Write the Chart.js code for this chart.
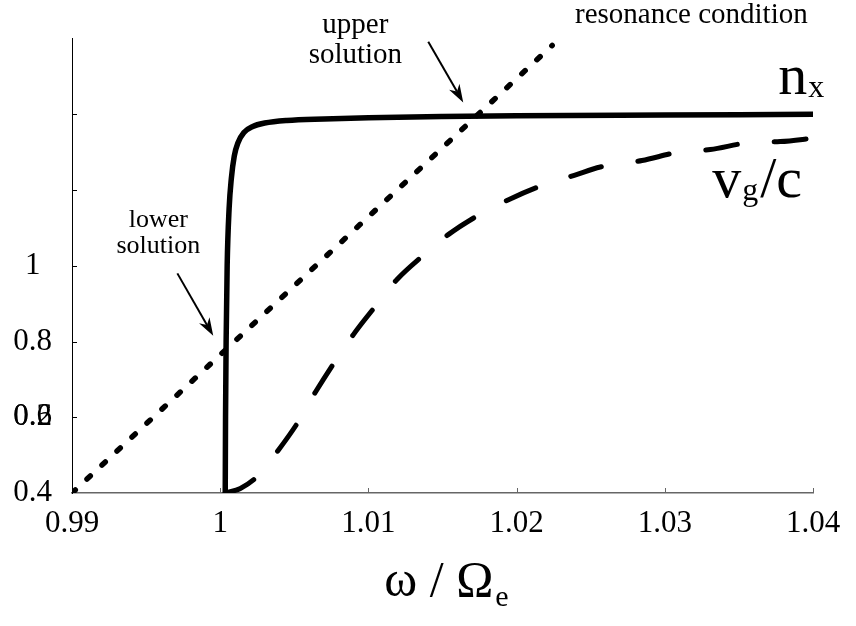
<!DOCTYPE html>
<html>
<head>
<meta charset="utf-8">
<script src="https://cdn.jsdelivr.net/npm/chart.js@4.4.1/dist/chart.umd.min.js"></script>
<style>
html,body{margin:0;padding:0;background:#fff;}
#wrap{width:856px;height:626px;position:relative;}
</style>
</head>
<body>
<div id="wrap"><canvas id="c"></canvas></div>
<script>
// ---- data ----
const resX = [0.99, 1.0224];
const resY = [0.40, 1.582];

const nxX = [1.00034, 1.00036, 1.00040, 1.00047, 1.00060, 1.00075, 1.00095, 1.00120, 1.00160, 1.00220, 1.00300, 1.00450, 1.00700, 1.01000, 1.01500, 1.02000, 1.03000, 1.04000];
const nxY = [0.400, 0.600, 0.800, 1.000, 1.150, 1.230, 1.290, 1.325, 1.352, 1.368, 1.377, 1.384, 1.388, 1.391, 1.394, 1.396, 1.398, 1.400];

const vgX = [1.00034, 1.00136, 1.00248, 1.00392, 1.00525, 1.00642, 1.00900, 1.01047, 1.01193, 1.01368, 1.01541, 1.01744, 1.01953, 1.02178, 1.02389, 1.02565, 1.02846, 1.03093, 1.03307, 1.03566, 1.03779, 1.04004];
const vgY = [0.400, 0.412, 0.443, 0.513, 0.587, 0.666, 0.819, 0.893, 0.964, 1.027, 1.083, 1.134, 1.176, 1.213, 1.239, 1.261, 1.278, 1.300, 1.307, 1.325, 1.328, 1.337];

const xTickLabels = ['0.99', '1', '1.01', '1.02', '1.03', '1.04'];
const yTickValues = [0.4, 0.6, 0.8, 1.0, 1.2, 1.4, 1.6];
const yTickLabels = ['0.4', '0.6', '0.8', '1', '', '', ''];
const yOverlayLabel = {value: 0.6, text: '0.2'};

const xTitle = 'ω / Ω';
const xTitleSub = 'e';

// annotations (data coordinates)
const notes = [
  {lines: ['lower', 'solution'], x: 0.99583, y: [1.1034, 1.0325], align: 'center', size: 26},
  {lines: ['upper', 'solution'], x: 1.00912, y: [1.615, 1.5365], align: 'center', size: 29},
  {lines: ['resonance condition'], x: 1.02394, y: [1.6415], align: 'left', size: 29}
];
const arrows = [
  {from: [0.99711, 0.980], to: [0.99953, 0.815]},
  {from: [1.01404, 1.592], to: [1.01640, 1.4315]}
];
const seriesLabels = [
  {main: 'n', sub: 'x', rest: '', x: 1.03765, y: 1.4525},
  {main: 'v', sub: 'g', rest: '/c', x: 1.0332, y: 1.182}
];

const SERIF = '"Liberation Serif", "DejaVu Serif", serif';

function pts(xs, ys){ return xs.map((x,i)=>({x:x, y:ys[i]})); }

const decor = {
  id: 'decor',
  afterDraw(chart){
    const ctx = chart.ctx, xs = chart.scales.x, ys = chart.scales.y, ca = chart.chartArea;
    ctx.save();
    // inward ticks on y axis
    ctx.strokeStyle = '#000'; ctx.lineWidth = 1;
    yTickValues.forEach(v=>{
      if (v <= 0.4 || v >= 1.6) return;
      const py = Math.round(ys.getPixelForValue(v)) + 0.5;
      ctx.beginPath(); ctx.moveTo(ca.left, py); ctx.lineTo(ca.left + 5, py); ctx.stroke();
    });
    // inward ticks on x axis
    ctx.strokeStyle = '#666'; ctx.lineWidth = 1;
    xs.ticks.forEach((t,i)=>{
      if (i === 0) return;
      const px = Math.round(xs.getPixelForValue(t.value)) + 0.5;
      ctx.beginPath(); ctx.moveTo(px, ca.bottom); ctx.lineTo(px, ca.bottom - 5); ctx.stroke();
    });
    // overlapping y label
    ctx.fillStyle = '#000';
    ctx.font = '31px ' + SERIF;
    ctx.textAlign = 'center'; ctx.textBaseline = 'middle';
    const wid = ctx.measureText('0.6').width;
    ctx.fillText(yOverlayLabel.text, ys.right - 20 - wid/2, ys.getPixelForValue(yOverlayLabel.value));
    // annotations
    ctx.textBaseline = 'alphabetic';
    notes.forEach(n=>{
      ctx.font = n.size + 'px ' + SERIF;
      ctx.textAlign = n.align;
      n.lines.forEach((l,i)=>{
        ctx.fillText(l, xs.getPixelForValue(n.x), ys.getPixelForValue(n.y[i]));
      });
    });
    // arrows
    arrows.forEach(a=>{
      const x1 = xs.getPixelForValue(a.from[0]), y1 = ys.getPixelForValue(a.from[1]);
      const x2 = xs.getPixelForValue(a.to[0]), y2 = ys.getPixelForValue(a.to[1]);
      const ang = Math.atan2(y2 - y1, x2 - x1);
      const L = 18, W = 6;
      ctx.strokeStyle = '#000'; ctx.lineWidth = 2;
      ctx.beginPath(); ctx.moveTo(x1, y1);
      ctx.lineTo(x2 - Math.cos(ang)*L*0.7, y2 - Math.sin(ang)*L*0.7); ctx.stroke();
      ctx.beginPath();
      ctx.moveTo(x2, y2);
      ctx.lineTo(x2 - Math.cos(ang)*L - Math.sin(ang)*W, y2 - Math.sin(ang)*L + Math.cos(ang)*W);
      ctx.lineTo(x2 - Math.cos(ang)*L*0.7, y2 - Math.sin(ang)*L*0.7);
      ctx.lineTo(x2 - Math.cos(ang)*L + Math.sin(ang)*W, y2 - Math.sin(ang)*L - Math.cos(ang)*W);
      ctx.closePath(); ctx.fillStyle = '#000'; ctx.fill();
    });
    // series labels
    seriesLabels.forEach(s=>{
      let px = xs.getPixelForValue(s.x), py = ys.getPixelForValue(s.y);
      ctx.textAlign = 'left';
      ctx.font = '58px ' + SERIF;
      ctx.fillText(s.main, px, py);
      px += ctx.measureText(s.main).width + 1;
      ctx.font = '32px ' + SERIF;
      ctx.fillText(s.sub, px, py + 3);
      px += ctx.measureText(s.sub).width + 2;
      if (s.rest){
        ctx.font = '58px ' + SERIF;
        ctx.fillText(s.rest, px, py);
      }
    });
    // x axis title
    ctx.font = '50px ' + SERIF;
    const w1 = ctx.measureText(xTitle).width;
    ctx.font = '30px ' + SERIF;
    const w2 = ctx.measureText(xTitleSub).width;
    const cx = (ca.left + ca.right)/2 + 4;
    const sx = cx - (w1 + w2 + 2)/2;
    ctx.font = '50px ' + SERIF;
    ctx.fillText(xTitle, sx, 596);
    ctx.font = '30px ' + SERIF;
    ctx.fillText(xTitleSub, sx + w1 + 2, 606);
    ctx.restore();
  }
};

new Chart(document.getElementById('c'), {
  type: 'line',
  data: {
    datasets: [
      {label: 'resonance condition', data: pts(resX, resY), borderColor: '#000', borderWidth: 5.5,
       borderDash: [4.5, 16], borderCapStyle: 'round', pointRadius: 0, fill: false, tension: 0},
      {label: 'n_x', data: pts(nxX, nxY), borderColor: '#000', borderWidth: 5.5,
       cubicInterpolationMode: 'monotone', pointRadius: 0, fill: false, borderCapStyle: 'round'},
      {label: 'v_g/c', data: pts(vgX, vgY), borderColor: '#000', borderWidth: 5,
       borderDash: [32, 37], borderCapStyle: 'round', cubicInterpolationMode: 'monotone', pointRadius: 0, fill: false}
    ]
  },
  options: {
    responsive: true, maintainAspectRatio: false, animation: false,
    layout: {padding: {top: 36, right: 43, left: 0, bottom: 0}},
    plugins: {legend: {display: false}, tooltip: {enabled: false}},
    scales: {
      x: {
        type: 'linear', min: 0.99, max: 1.04,
        afterFit(s){ s.height = 133; },
        grid: {display: false, drawTicks: false},
        border: {display: true, color: '#666', width: 1.5},
        ticks: {stepSize: 0.01, padding: 12, color: '#000', font: {family: SERIF, size: 31},
                maxRotation: 0, autoSkip: false,
                callback: (v, i) => xTickLabels[i] !== undefined ? xTickLabels[i] : ''}
      },
      y: {
        type: 'linear', min: 0.4, max: 1.6,
        afterFit(s){ s.width = 72; },
        grid: {display: false, drawTicks: false},
        border: {display: true, color: '#000', width: 1},
        ticks: {stepSize: 0.2, padding: 20, crossAlign: 'center', color: '#000', font: {family: SERIF, size: 31},
                autoSkip: false,
                callback: (v, i) => yTickLabels[i] !== undefined ? yTickLabels[i] : ''}
      }
    }
  },
  plugins: [decor]
});
</script>
</body>
</html>
